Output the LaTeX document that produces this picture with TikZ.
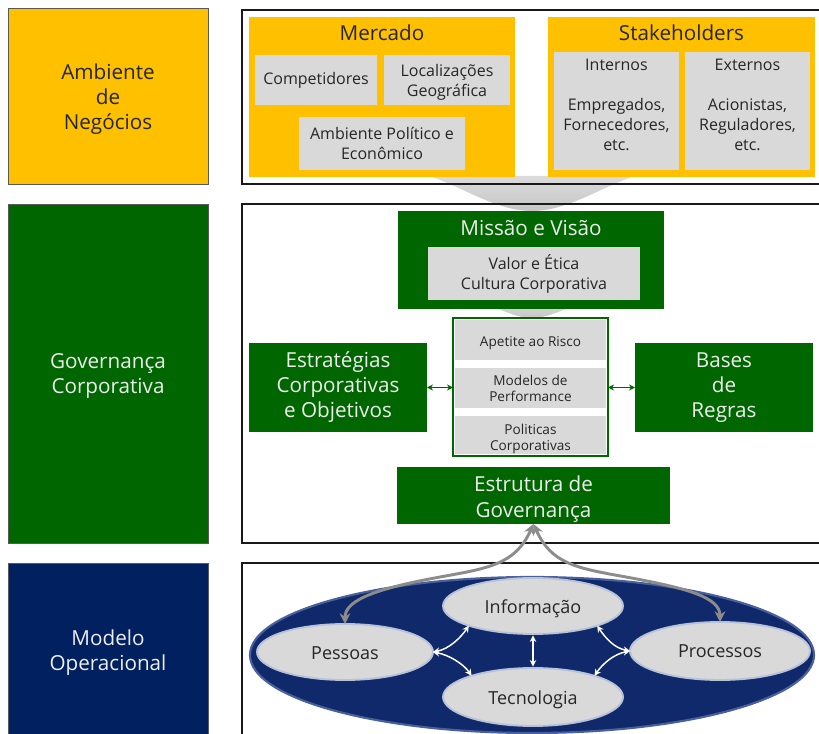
\documentclass[tikz,border=0pt]{standalone}
\usepackage{fontspec}
\setmainfont{Open Sans}
\usetikzlibrary{arrows.meta,shapes.geometric}
\definecolor{gold}{HTML}{FFC000}
\definecolor{forest}{HTML}{006600}
\definecolor{navy}{HTML}{002060}
\definecolor{deepnavy}{HTML}{10296B}
\definecolor{rimblue}{HTML}{8EA3D6}
\definecolor{boxgray}{HTML}{D9D9D9}
\definecolor{ink}{HTML}{262626}
\definecolor{paper}{HTML}{EEEEEE}
\definecolor{arrowgray}{HTML}{8C8C8C}
\tikzset{
  band/.style={draw=black!65, line width=0.5pt},
  frame/.style={draw=black!90, line width=1.4pt},
  bigtxt/.style={font=\fontsize{15.5}{18.75}\selectfont},
  subtxt/.style={font=\fontsize{12}{15}\selectfont, text=ink},
  smalltxt/.style={font=\fontsize{10.2}{12}\selectfont, text=ink},
  graybox/.style={fill=boxgray, subtxt},
  greenbox/.style={fill=forest, text=paper, bigtxt},
  oval/.style={ellipse, fill=boxgray, draw=rimblue!45!boxgray, line width=1.4pt},
  ovaltxt/.style={text=ink, font=\fontsize{13.5}{16}\selectfont},
  greenarrow/.style={draw=forest, line width=1.1pt,
    {Stealth[length=4.5pt,width=4.5pt]}-{Stealth[length=4.5pt,width=4.5pt]}},
  whitearrow/.style={draw=white, line width=1.1pt,
    {Stealth[length=5pt,width=5pt]}-{Stealth[length=5pt,width=5pt]}},
  grayarrow/.style={draw=arrowgray, line width=2.2pt,
    {Stealth[length=8pt,width=8pt]}-{Stealth[length=8pt,width=8pt]}},
  chevron/.style={top color=black!14, bottom color=black!22, draw=none}
}
\begin{document}
\begin{tikzpicture}[x=0.75pt,y=-0.75pt,
  every node/.style={inner sep=0pt, outer sep=0pt, align=center}]
\useasboundingbox (0,0) rectangle (819,734);
\clip (0,0) rectangle (819,734);

% ---- left column bands ----
\node[band, fill=gold, minimum width=150pt, minimum height=132pt] (amb) at (108,96) {};
\node[bigtxt, text=ink] (ambT) at (108,99) {Ambiente\\de\\Negócios};
\node[band, fill=forest, minimum width=150pt, minimum height=254.25pt] (gov) at (108,373.5) {};
\node[bigtxt, text=paper] (govT) at (108,376.5) {Governança\\Corporativa};
\node[band, fill=navy, minimum width=150pt, minimum height=130.5pt] (mod) at (108,650) {};
\node[bigtxt, text=paper] (modT) at (108,653) {Modelo\\Operacional};

% ---- shaded chevrons behind the panels ----
\path[chevron] (430,176) -- (634,176)
  .. controls (596,190) and (566,211) .. (532,211)
  .. controls (498,211) and (468,190) .. (430,176) -- cycle;
\path[chevron] (480,300) -- (585,300)
  .. controls (562,311) and (546,318) .. (532,318)
  .. controls (518,318) and (502,311) .. (480,300) -- cycle;

% ---- panel frames ----
\draw[frame] (242,10) rectangle (840,184);
\draw[frame] (242,204) rectangle (840,543);
\draw[frame] (242,563) rectangle (840,760);

% ---- business environment ----
\node[fill=gold, minimum width=199.5pt, minimum height=120pt] (merc) at (382,97) {};
\node[bigtxt, text=ink] (mercT) at (382,33) {Mercado};
\node[graybox, minimum width=91.5pt, minimum height=37.5pt] (comp) at (316,80) {Competidores};
\node[graybox, minimum width=94.5pt, minimum height=37.5pt] (loc) at (447,80) {};
\node[subtxt] (locT) at (447,82) {Localizações\\Geográfica};
\node[graybox, minimum width=124.5pt, minimum height=39.75pt] (pol) at (382,143.5) {Ambiente Político e\\Econômico};

\node[fill=gold, minimum width=200.25pt, minimum height=120pt] (stk) at (681.5,97) {};
\node[bigtxt, text=ink] (stkT) at (681.5,33) {Stakeholders};
\node[graybox, minimum width=93.75pt, minimum height=88.5pt] (int) at (616.5,111) {};
\node[subtxt] (intT) at (616.5,104.5) {Internos\\[15pt]Empregados,\\Fornecedores,\\etc.};
\node[graybox, minimum width=93.75pt, minimum height=88.5pt] (ext) at (747.5,111) {};
\node[subtxt] (extT) at (747.5,104.5) {Externos\\[15pt]Acionistas,\\Reguladores,\\etc.};

% ---- corporate governance ----
\node[fill=forest, minimum width=199.5pt, minimum height=73.5pt] (mis) at (531,260) {};
\node[bigtxt, text=paper] (misT) at (531,228) {Missão e Visão};
\node[graybox, minimum width=159pt, minimum height=39.75pt] (val) at (534,273.5) {Valor e Ética\\Cultura Corporativa};

\node[draw=forest, line width=1.5pt, fill=white, minimum width=116.25pt, minimum height=103.5pt] (core) at (530.5,387) {};
\node[fill=boxgray, minimum width=113.25pt, minimum height=30pt] (ris) at (530.5,340) {};
\node[smalltxt] (risT) at (530.5,343) {Apetite ao Risco};
\node[fill=boxgray, smalltxt, minimum width=113.25pt, minimum height=30pt] (perf) at (530.5,388) {Modelos de\\Performance};
\node[fill=boxgray, minimum width=113.25pt, minimum height=28.5pt] (polc) at (530.5,435.5) {};
\node[smalltxt] (polcT) at (530.5,438.5) {Politicas\\Corporativas};

\node[greenbox, minimum width=133.5pt, minimum height=66.75pt] (strat) at (338,387.5) {Estratégias\\Corporativas\\e Objetivos};
\node[greenbox, minimum width=133.5pt, minimum height=66.75pt] (bases) at (724,387.5) {Bases\\de\\Regras};
\node[fill=forest, minimum width=204.75pt, minimum height=42.75pt] (gstr) at (533.5,495.5) {};
\node[text=paper, font=\fontsize{15.5}{20}\selectfont] (gstrT) at (533.5,499) {Estrutura de\\Governança};

\draw[greenarrow] (strat.east) -- (strat.east -| core.west);
\draw[greenarrow] (bases.west) -- (bases.west -| core.east);

% ---- operating model ----
\node[ellipse, fill=deepnavy, draw=deepnavy!55!rimblue, line width=1.6pt, minimum width=423pt, minimum height=117pt] (opm) at (532,655) {};

\node[oval, minimum width=135pt, minimum height=42pt] (info) at (533,606) {};
\node[ovaltxt] (infoT) at (533,608.5) {Informação};
\node[oval, minimum width=132pt, minimum height=42pt] (pess) at (345,652) {};
\node[ovaltxt] (pessT) at (345,653) {Pessoas};
\node[oval, minimum width=135pt, minimum height=43.5pt] (proc) at (720,651) {};
\node[ovaltxt] (procT) at (720,651) {Processos};
\node[oval, minimum width=135pt, minimum height=43.5pt] (tecn) at (533,697) {};
\node[ovaltxt] (tecnT) at (533,699.5) {Tecnologia};

\draw[whitearrow, shorten <=1pt, shorten >=1pt] (info.south) -- (tecn.north);
\draw[whitearrow] (pess.east) .. controls +(16,-3) and +(-8,12) .. (info.197);
\draw[whitearrow] (pess.east) .. controls +(16,3) and +(-8,-12) .. (tecn.161);
\draw[whitearrow] (proc.west) .. controls +(-16,-3) and +(8,12) .. (info.-17);
\draw[whitearrow] (proc.west) .. controls +(-16,3) and +(8,-12) .. (tecn.19);

\coordinate (gl) at (440,577);
\coordinate (gr) at (626,577);
\draw[grayarrow] (gstr.south) .. controls +(-18,40) and +(50,-9) .. (gl)
  .. controls +(-60,11) and +(0,-25) .. (pess.north);
\draw[grayarrow] (gstr.south) .. controls +(18,40) and +(-50,-9) .. (gr)
  .. controls +(60,11) and +(0,-25) .. (proc.north);
\end{tikzpicture}
\end{document}
